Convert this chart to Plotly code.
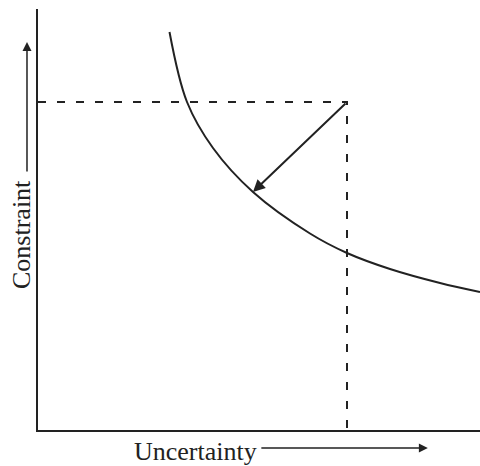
import plotly.graph_objects as go

# Curve points (x = uncertainty, y = constraint)
curve_x = [131.5, 149, 175, 215, 272, 309, 352, 402, 442]
curve_y = [398, 328, 282, 238, 196.5, 177, 161, 147, 138]

# Reference point (corner of dashed lines) and target point on the curve
point_x = [309]
point_y = [328]
target_x = [215]
target_y = [238]

x_label = "Uncertainty"
y_label = "Constraint"

INK = "#222222"
FONT = "Liberation Serif, Times New Roman, serif"

fig = go.Figure()

# dashed guide lines
fig.add_trace(go.Scatter(
    x=[0, point_x[0], point_x[0]], y=[point_y[0], point_y[0], 0],
    mode="lines", line=dict(color=INK, width=2, dash="8px,11px"),
    hoverinfo="skip", showlegend=False))

# curve
fig.add_trace(go.Scatter(
    x=curve_x, y=curve_y, mode="lines",
    line=dict(color=INK, width=2, shape="spline", smoothing=1.0),
    hoverinfo="skip", showlegend=False))

# arrow from point to curve
fig.add_annotation(
    x=target_x[0], y=target_y[0], ax=point_x[0], ay=point_y[0],
    xref="x", yref="y", axref="x", ayref="y",
    text="", showarrow=True, arrowhead=2, arrowsize=1.2, arrowwidth=2,
    arrowcolor=INK)

# axis label arrows
fig.add_annotation(
    x=-0.0249, y=0.9216, xref="paper", yref="paper",
    ax=0, ay=131, axref="pixel", ayref="pixel",
    text="", showarrow=True, arrowhead=2, arrowsize=1.2, arrowwidth=1.5,
    arrowcolor=INK)
fig.add_annotation(
    x=0.882, y=-0.0428, xref="paper", yref="paper",
    ax=-168, ay=0, axref="pixel", ayref="pixel",
    text="", showarrow=True, arrowhead=2, arrowsize=1.2, arrowwidth=1.5,
    arrowcolor=INK)

# axis labels
fig.add_annotation(
    x=(195 - 38) / 442, y=(430 - 451) / 421, xref="paper", yref="paper",
    text=x_label, showarrow=False, xanchor="center", yanchor="middle",
    font=dict(family=FONT, size=26, color=INK))
fig.add_annotation(
    x=(21 - 38) / 442, y=(430 - 235) / 421, xref="paper", yref="paper",
    text=y_label, textangle=-90, showarrow=False,
    xanchor="center", yanchor="middle",
    font=dict(family=FONT, size=26, color=INK))

axis_common = dict(showgrid=False, zeroline=False, showticklabels=False,
                   ticks="", showline=True, linecolor=INK, linewidth=2)
fig.update_xaxes(range=[0, 442], **axis_common)
fig.update_yaxes(range=[0, 421], **axis_common)

fig.update_layout(
    width=480, height=466,
    margin=dict(l=38, r=0, t=9, b=36),
    paper_bgcolor="white", plot_bgcolor="white",
    showlegend=False)

fig.write_html("out.html", config={"displayModeBar": False},
               post_script="document.body.style.margin='0';document.body.style.overflow='hidden';")
